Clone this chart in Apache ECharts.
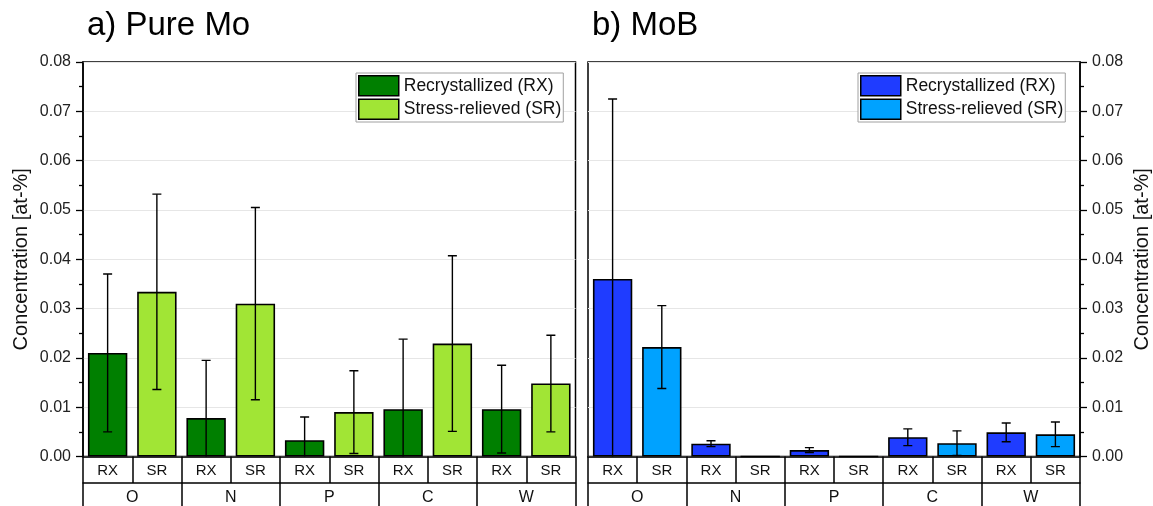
<!DOCTYPE html>
<html>
<head>
<meta charset="utf-8">
<script src="https://cdn.jsdelivr.net/npm/echarts@6/dist/echarts.min.js"></script>
<style>
  html, body { margin: 0; padding: 0; background: #fff; }
  #chart { width: 1153px; height: 506px; }
</style>
</head>
<body>
<div id="chart"></div>
<script>
// Impurity groups and sample conditions
const groups = ['O', 'N', 'P', 'C', 'W'];
const conditions = ['RX', 'SR'];
const tickLabels = ['0.00', '0.01', '0.02', '0.03', '0.04', '0.05', '0.06', '0.07', '0.08'];

// a) Pure Mo — mean concentration [at-%] and standard deviation
const moRX = [0.0210, 0.0078, 0.0033, 0.0096, 0.0096];
const moRXErr = [0.0160, 0.0117, 0.0047, 0.0142, 0.0089];
const moSR = [0.0334, 0.0310, 0.0090, 0.0229, 0.0148];
const moSRErr = [0.0198, 0.0195, 0.0084, 0.0178, 0.0098];

// b) MoB — mean concentration [at-%] and standard deviation
const mobRX = [0.0360, 0.0026, 0.0013, 0.0039, 0.0049];
const mobRXErr = [0.0365, 0.0006, 0.0005, 0.0017, 0.0019];
const mobSR = [0.0222, 0.0000, 0.0000, 0.0027, 0.0045];
const mobSRErr = [0.0084, null, null, 0.0025, 0.0025];

const nameRX = 'Recrystallized (RX)';
const nameSR = 'Stress-relieved (SR)';
const FONT = '"Liberation Sans", Arial, sans-serif';

// One x slot per (group, condition) pair: RX, SR, RX, SR, ...
const slotLabels = [];
groups.forEach(() => conditions.forEach(c => slotLabels.push(c)));

function slotSeries(values, offset) {
  const out = [];
  values.forEach(v => {
    if (offset === 0) { out.push(v); out.push('-'); }
    else { out.push('-'); out.push(v); }
  });
  return out;
}

function errorData(rx, rxErr, sr, srErr) {
  const out = [];
  rx.forEach((v, i) => {
    out.push(rxErr[i] == null ? [2 * i, null, null] : [2 * i, v - rxErr[i], v + rxErr[i]]);
    out.push(srErr[i] == null ? [2 * i + 1, null, null] : [2 * i + 1, sr[i] - srErr[i], sr[i] + srErr[i]]);
  });
  return out;
}

function renderErrorBar(params, api) {
  const lo = api.value(1), hi = api.value(2);
  if (lo == null || hi == null || isNaN(lo) || isNaN(hi)) return null;
  const x = api.value(0);
  const pLo = api.coord([x, lo]);
  const pHi = api.coord([x, hi]);
  const half = 4.5;
  const style = { stroke: '#000', lineWidth: 1.4 };
  return {
    type: 'group',
    children: [
      { type: 'line', shape: { x1: pLo[0], y1: pLo[1], x2: pHi[0], y2: pHi[1] }, style },
      { type: 'line', shape: { x1: pHi[0] - half, y1: pHi[1], x2: pHi[0] + half, y2: pHi[1] }, style },
      { type: 'line', shape: { x1: pLo[0] - half, y1: pLo[1], x2: pLo[0] + half, y2: pLo[1] }, style }
    ]
  };
}

const panels = [
  { title: 'a) Pure Mo', left: 83, rx: moRX, rxErr: moRXErr, sr: moSR, srErr: moSRErr,
    colRX: '#007f00', colSR: '#a1e535', yPos: 'left', legendLeft: 356 },
  { title: 'b) MoB', left: 588, rx: mobRX, rxErr: mobRXErr, sr: mobSR, srErr: mobSRErr,
    colRX: '#1f3cff', colSR: '#00a2ff', yPos: 'right', legendLeft: 858 }
];

const GRID_TOP = 62, GRID_H = 395.5, GRID_W = 492.5, ROW1 = 26.5;

const option = {
  backgroundColor: '#fff',
  animation: false,
  title: [], legend: [], grid: [], xAxis: [], yAxis: [], series: []
};

panels.forEach((p, k) => {
  option.title.push({
    text: p.title, left: p.left - 1, top: 4,
    textStyle: { fontFamily: FONT, fontSize: 33, fontWeight: 'normal', color: '#000' }
  });
  option.grid.push({
    left: p.left, top: GRID_TOP, width: GRID_W, height: GRID_H,
    show: true, borderColor: '#000', borderWidth: 1.5, backgroundColor: '#fff'
  });
  // condition row (RX / SR)
  option.xAxis.push({
    type: 'category', gridIndex: k, data: slotLabels, position: 'bottom',
    axisLine: { show: true, lineStyle: { color: '#000', width: 1.5 } },
    axisTick: { show: true, interval: 0, length: ROW1, lineStyle: { color: '#000', width: 1.5 } },
    axisLabel: { interval: 0, margin: 7, fontFamily: FONT, fontSize: 15, color: '#111' },
    splitLine: { show: false }
  });
  // impurity group row (O, N, P, C, W)
  option.xAxis.push({
    type: 'category', gridIndex: k, data: groups, position: 'bottom', offset: ROW1,
    axisLine: { show: true, lineStyle: { color: '#000', width: 1.5 } },
    axisTick: { show: true, interval: 0, length: 40, lineStyle: { color: '#000', width: 1.5 } },
    axisLabel: { interval: 0, margin: 7, fontFamily: FONT, fontSize: 16, color: '#111' },
    splitLine: { show: false }
  });
  option.yAxis.push({
    type: 'value', gridIndex: k, position: p.yPos, min: 0, max: 0.08, interval: 0.01,
    name: 'Concentration [at-%]', nameLocation: 'middle', nameGap: 52,
    nameTextStyle: { fontFamily: FONT, fontSize: 20, color: '#111' },
    axisLine: { show: true, lineStyle: { color: '#000', width: 1.5 } },
    axisTick: { show: true, inside: false, length: 7, lineStyle: { color: '#000', width: 1.3 } },
    minorTick: { show: true, splitNumber: 2, length: 4, lineStyle: { color: '#000', width: 1.3 } },
    axisLabel: {
      margin: 12, fontFamily: FONT, fontSize: 16, color: '#222',
      formatter: v => tickLabels[Math.round(v / 0.01)]
    },
    splitLine: { show: true, lineStyle: { color: '#e6e6e6', width: 1.2 } }
  });
  option.legend.push({
    orient: 'vertical', left: p.legendLeft, top: 73,
    itemWidth: 40, itemHeight: 20, itemGap: 2, padding: [2, 2, 2, 2],
    backgroundColor: '#fff', borderColor: '#a0a0a0', borderWidth: 1,
    selectedMode: false, icon: 'rect',
    textStyle: { fontFamily: FONT, fontSize: 17.5, color: '#111' },
    data: [
      { name: nameRX, itemStyle: { color: p.colRX, borderColor: '#000', borderWidth: 1.5 } },
      { name: nameSR, itemStyle: { color: p.colSR, borderColor: '#000', borderWidth: 1.5 } }
    ]
  });
  const xi = 2 * k;
  option.series.push({
    type: 'bar', name: nameRX, xAxisIndex: xi, yAxisIndex: k,
    data: slotSeries(p.rx, 0), barWidth: '80%', barGap: '-100%',
    itemStyle: { color: p.colRX, borderColor: '#000', borderWidth: 1.6 }
  });
  option.series.push({
    type: 'bar', name: nameSR, xAxisIndex: xi, yAxisIndex: k,
    data: slotSeries(p.sr, 1), barWidth: '80%', barGap: '-100%',
    itemStyle: { color: p.colSR, borderColor: '#000', borderWidth: 1.6 }
  });
  option.series.push({
    type: 'custom', name: 'err' + k, xAxisIndex: xi, yAxisIndex: k, clip: true, z: 5,
    renderItem: renderErrorBar,
    encode: { x: 0, y: [1, 2] },
    data: errorData(p.rx, p.rxErr, p.sr, p.srErr)
  });
});

const chart = echarts.init(document.getElementById('chart'), null, { renderer: 'canvas' });
chart.setOption(option);
</script>
</body>
</html>
